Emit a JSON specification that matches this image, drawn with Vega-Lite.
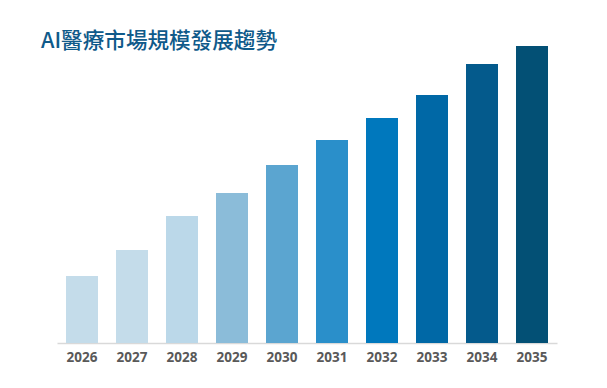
{
  "$schema": "https://vega.github.io/schema/vega-lite/v6.json",
  "width": 500,
  "height": 320,
  "autosize": "none",
  "padding": {"left": 57, "top": 23, "right": 50, "bottom": 45},
  "background": "white",
  "title": {
    "text": "AI醫療市場規模發展趨勢",
    "anchor": "start",
    "frame": "group",
    "font": "Noto Sans CJK TC",
    "fontSize": 21.6,
    "fontWeight": 500,
    "color": "#0f5a8a",
    "baseline": "alphabetic",
    "offset": 0,
    "dx": -16,
    "dy": 47
  },
  "data": {
    "values": [
      {"year": "2026", "value": 67, "color": "#c4dcea"},
      {"year": "2027", "value": 93, "color": "#c4dcea"},
      {"year": "2028", "value": 127, "color": "#bbd8e9"},
      {"year": "2029", "value": 150, "color": "#8bbcd9"},
      {"year": "2030", "value": 178, "color": "#5ba5d0"},
      {"year": "2031", "value": 203, "color": "#2a8fca"},
      {"year": "2032", "value": 225, "color": "#0078bd"},
      {"year": "2033", "value": 248, "color": "#0068a6"},
      {"year": "2034", "value": 279, "color": "#045a8c"},
      {"year": "2035", "value": 297, "color": "#035075"}
    ]
  },
  "mark": {"type": "bar", "width": 32},
  "encoding": {
    "x": {
      "field": "year",
      "type": "ordinal",
      "title": null,
      "scale": {"paddingInner": 0.36, "paddingOuter": 0.18},
      "axis": {
        "labelAngle": 0,
        "labelFont": "Open Sans",
        "labelFontSize": 13.5,
        "labelFontWeight": "bold",
        "labelColor": "#595959",
        "labelPadding": 7,
        "ticks": false,
        "domainColor": "#d9d9d9",
        "domainWidth": 1.5
      }
    },
    "y": {
      "field": "value",
      "type": "quantitative",
      "scale": {"domain": [0, 320]},
      "axis": null
    },
    "color": {"field": "color", "type": "nominal", "scale": null, "legend": null}
  },
  "config": {"view": {"stroke": null}}
}
